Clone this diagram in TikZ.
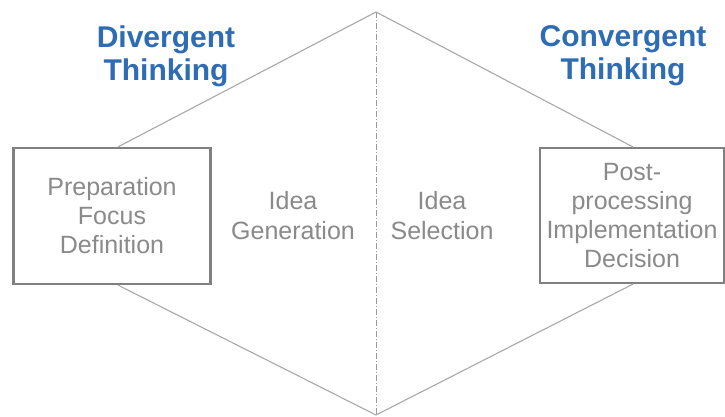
\documentclass[tikz,border=0pt]{standalone}
\usepackage{fontspec}
\setmainfont{Liberation Sans}
\usetikzlibrary{calc}
\definecolor{titleblue}{HTML}{2E6CB3}
\definecolor{txtgray}{HTML}{8A8A8A}
\definecolor{boxgray}{HTML}{808080}
\definecolor{linegray}{HTML}{A8A8A8}
\definecolor{dashgray}{HTML}{9A9A9A}
\tikzset{
  stagebox/.style={draw=boxgray, line width=2.2pt, fill=none, align=center,
    text=txtgray, font=\fontsize{25}{29}\selectfont, inner sep=0pt},
  stagetext/.style={align=center, text=txtgray, font=\fontsize{25}{30}\selectfont, inner sep=0pt},
  titletext/.style={align=center, text=titleblue, font=\fontsize{30}{33}\selectfont\bfseries, inner sep=0pt},
  edge/.style={draw=linegray, line width=1.1pt},
  divider/.style={draw=dashgray, line width=0.9pt, dash pattern=on 6pt off 2pt on 1pt off 2pt}
}
\begin{document}
\begin{tikzpicture}[x=1pt,y=1pt]
\useasboundingbox (0,0) rectangle (725,416);
\fill[white] (0,0) rectangle (725,416);
\coordinate (top) at (376,404);
\coordinate (bot) at (376,1);
\node[stagebox, minimum width=197pt, minimum height=136pt] (lbox) at (112,200) {Preparation\\Focus\\Definition};
\node[stagebox, minimum width=184pt, minimum height=135pt] (rbox) at (632,200.5) {Post-\\processing\\Implementation\\Decision};
\coordinate (lt) at ($(lbox.north west)!0.53!(lbox.north east)$);
\coordinate (lb) at ($(lbox.south west)!0.53!(lbox.south east)$);
\coordinate (rt) at ($(rbox.north west)!0.505!(rbox.north east)$);
\coordinate (rb) at ($(rbox.south west)!0.505!(rbox.south east)$);
\draw[divider] (top) -- (bot);
\draw[edge] (lt) -- (top) -- (rt);
\draw[edge] (lb) -- (bot) -- (rb);
\node[stagetext] (gen) at (293,200) {Idea\\Generation};
\node[stagetext] (sel) at (442,200) {Idea\\Selection};
\node[titletext] (div) at (166,360) {Divergent\\Thinking};
\node[titletext] (conv) at (623,360) {Convergent\\Thinking};
\end{tikzpicture}
\end{document}
